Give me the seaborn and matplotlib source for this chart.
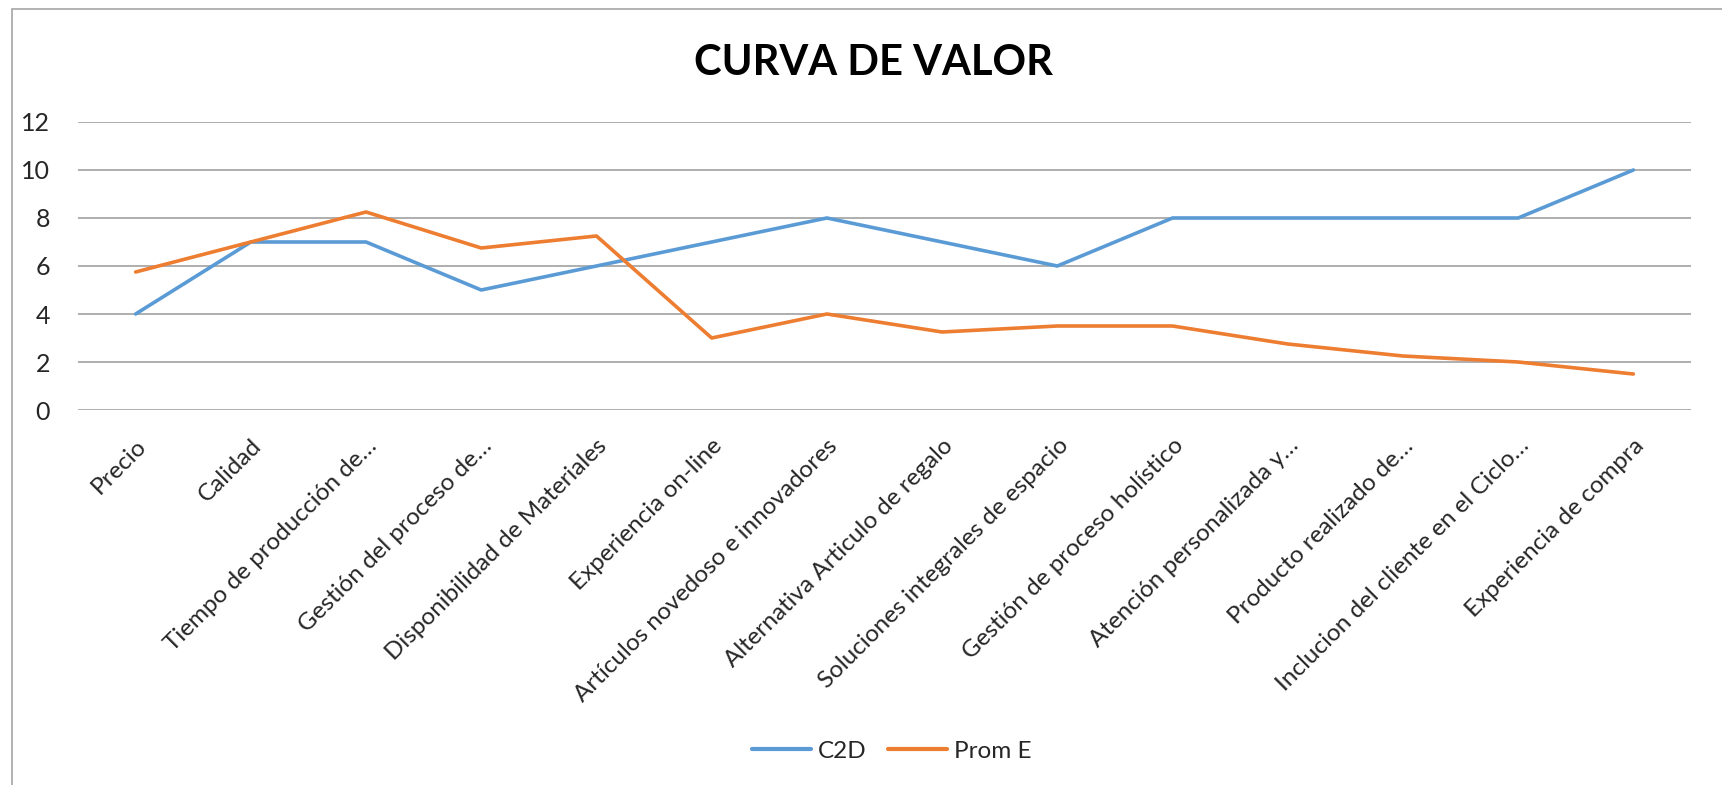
import numpy as np
import pandas as pd
import matplotlib
matplotlib.use("Agg")
import matplotlib.pyplot as plt
from matplotlib.patches import Rectangle
import seaborn as sns

sns.set_style("white")
plt.rcParams['font.family'] = ['Lato', 'DejaVu Sans']

# datos de la curva de valor
categorias = ["Precio", "Calidad", "Tiempo de producción de…", "Gestión del proceso de…",
              "Disponibilidad de Materiales", "Experiencia on-line",
              "Artículos novedoso e innovadores", "Alternativa Articulo de regalo",
              "Soluciones integrales de espacio", "Gestión de proceso holístico",
              "Atención personalizada y…", "Producto realizado de…",
              "Inclucion del cliente en el Ciclo…", "Experiencia de compra"]
c2d = [4, 7, 7, 5, 6, 7, 8, 7, 6, 8, 8, 8, 8, 10]
prom_e = [5.75, 7, 8.25, 6.75, 7.25, 3, 4, 3.25, 3.5, 3.5, 2.75, 2.25, 2, 1.5]
series = ["C2D", "Prom E"]
y_ticks = [0, 2, 4, 6, 8, 10, 12]

df = pd.DataFrame({
    "pos": list(range(len(categorias))) * 2,
    "valor": c2d + prom_e,
    "serie": [series[0]] * len(c2d) + [series[1]] * len(prom_e),
})

fig = plt.figure(figsize=(17.22, 7.85), dpi=100)
ax = fig.add_axes([0.0453, 0.4777, 0.9367, 0.3669])

sns.lineplot(data=df, x="pos", y="valor", hue="serie", palette=["#5B9BD5", "#ED7D31"],
             linewidth=2.6, ax=ax, legend=False)

ax.set_xlim(-0.5, len(categorias) - 0.5)
ax.set_ylim(0, 12)
ax.set_yticks(y_ticks)
ax.set_yticklabels([str(v) for v in y_ticks], fontsize=18)
ax.set_xticks(range(len(categorias)))
ax.set_xticklabels(categorias, rotation=45, ha="right", rotation_mode="anchor", fontsize=17.5)
ax.tick_params(axis="both", length=0)
ax.tick_params(axis="x", pad=18)
ax.tick_params(axis="y", pad=20)
ax.yaxis.grid(True, color="#999999", linewidth=1.1)
ax.set_axisbelow(True)
ax.set_xlabel("")
ax.set_ylabel("")
for s in ax.spines.values():
    s.set_visible(False)
ax.set_clip_on(False)

fig.text(0.507, 0.92, "CURVA DE VALOR", ha="center", va="center", fontsize=30,
         fontweight="bold", color="black")

# leyenda abajo
handles = [plt.Line2D([], [], color=c, linewidth=3) for c in ["#5B9BD5", "#ED7D31"]]
fig.legend(handles, series, loc="center", bbox_to_anchor=(0.518, 0.043), ncol=2, frameon=False,
           fontsize=17.5, handlelength=2.4, columnspacing=0.9, handletextpad=0.3)

# borde del grafico
fig.patches.append(Rectangle((12 / 1722, -0.5), 2, 0.5 + 1 - 9 / 785, transform=fig.transFigure,
                             fill=False, edgecolor="#A6A6A6", linewidth=1.2))

fig.savefig("out.png", dpi=100)
